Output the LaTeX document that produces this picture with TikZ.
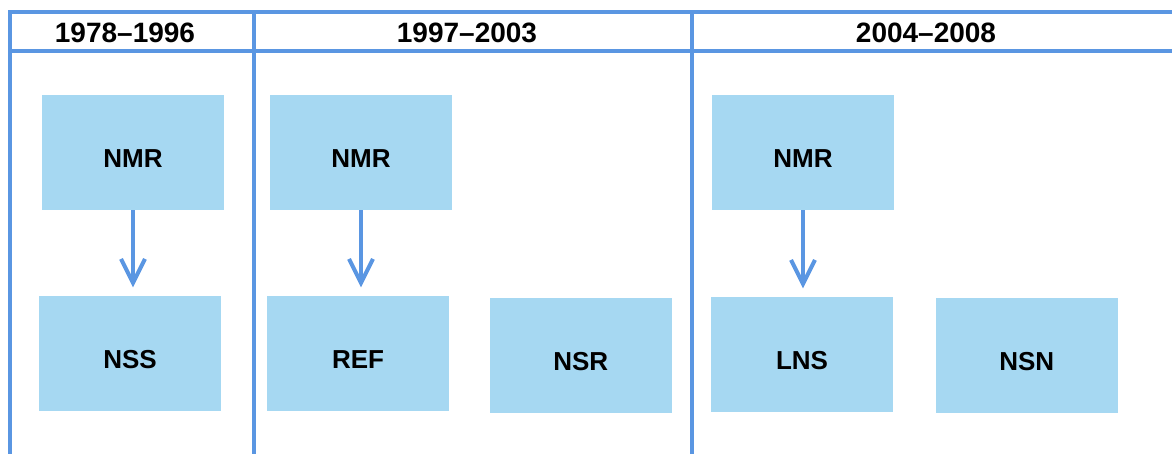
\documentclass[tikz,border=0pt]{standalone}
\usepackage{fontspec}
\setmainfont{Liberation Sans}
\usetikzlibrary{arrows.meta, positioning}
\definecolor{framecol}{RGB}{90,150,226}
\definecolor{boxcol}{RGB}{166,216,242}
\tikzstyle{period}=[x=0.5pt, y=-0.5pt, >={Straight Barb[length=12pt,width=12pt]}]
\tikzstyle{unit}=[fill=boxcol, minimum width=91pt, minimum height=57.5pt, inner sep=0pt, text height=15pt, text depth=0pt, font=\fontsize{13}{15}\bfseries\selectfont]
\tikzstyle{years}=[font=\fontsize{14}{16}\bfseries\selectfont]
\tikzstyle{rule}=[draw=framecol, line width=2pt]
\tikzstyle{link}=[->, draw=framecol, line width=2pt, shorten >=4pt]

\begin{document}
\begin{tikzpicture}[period]
  \useasboundingbox (0,0) rectangle (1172,454);
  % table frame
  \draw[rule] (1180,12) -- (10,12) -- (10,470);
  \draw[rule] (10,51) -- (1180,51);
  \draw[rule] (254,12) -- (254,470);
  \draw[rule] (692,12) -- (692,470);
  \node[years] (hA) at (125,33) {1978–1996};
  \node[years] (hB) at (467,33) {1997–2003};
  \node[years] (hC) at (926,33) {2004–2008};
  % boxes
  \node[unit] (nmrA) at (133,152.5) {NMR};
  \node[unit] (nss) [below=42.5pt of nmrA, xshift=-1.5pt] {NSS};
  \node[unit] (nmrB) at (361,152.5) {NMR};
  \node[unit] (ref) [below=42.5pt of nmrB, xshift=-1.5pt] {REF};
  \node[unit] (nsr) [right=20pt of ref, yshift=-1pt] {NSR};
  \node[unit] (nmrC) at (803,152.5) {NMR};
  \node[unit] (lns) [below=43pt of nmrC, xshift=-0.5pt] {LNS};
  \node[unit] (nsn) [right=21pt of lns, yshift=-0.5pt] {NSN};
  \draw[link] (nmrA) -- (nmrA |- nss.north);
  \draw[link] (nmrB) -- (nmrB |- ref.north);
  \draw[link] (nmrC) -- (nmrC |- lns.north);
\end{tikzpicture}
\end{document}
